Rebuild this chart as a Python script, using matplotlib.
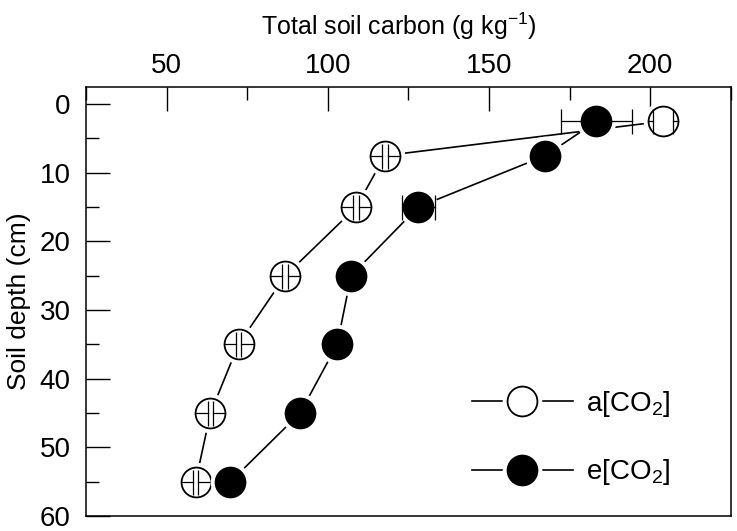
import matplotlib
matplotlib.use("Agg")
import matplotlib.pyplot as plt
from matplotlib.lines import Line2D
from matplotlib.legend_handler import HandlerTuple
from matplotlib.ticker import MultipleLocator

plt.rcParams['font.family'] = ['Liberation Sans', 'DejaVu Sans']
plt.rcParams['mathtext.fontset'] = 'custom'
plt.rcParams['mathtext.rm'] = 'Liberation Sans'
plt.rcParams['mathtext.it'] = 'Liberation Sans:italic'

# soil depth (cm) and total soil carbon (g/kg)
depth = [2.5, 7.5, 15, 25, 35, 45, 55]
ambient = [204, 117.7, 108.8, 86.8, 72.3, 63.6, 59.0]
ambient_se = [3.0, 0.9, 0.9, 0.9, 0.9, 0.9, 0.8]
elevated = [183.3, 167.5, 128.0, 107.2, 102.9, 91.4, 69.8]
elevated_se = [11.0, 2.0, 5.1, 2.0, 2.0, 2.0, 2.0]
labels = ['a[CO$_2$]', 'e[CO$_2$]']

ms = 21.5    # marker size (pt)
halo = 28.5  # white gap round the markers
cap = 18

fig = plt.figure(figsize=(7.37, 5.31), dpi=100)
ax = fig.add_axes([0.1167, 0.0282, 0.875, 0.808])
ax.set_xlim(25, 225)
ax.set_ylim(60, -2.5)

# marker radius in data units so error bars start at circle edge
px_per_unit = ax.transData.transform((1, 0))[0] - ax.transData.transform((0, 0))[0]
r = ms / 2 / 72 * fig.dpi / px_per_unit


def draw_series(x, err, face, z):
    ax.plot(x, depth, color='black', lw=1.2, zorder=z)
    ax.plot(x, depth, ls='none', marker='o', ms=halo, mfc='white', mec='none', zorder=z + 1)
    ax.plot(x, depth, ls='none', marker='o', ms=ms, mfc=face, mec='black', mew=1.3, zorder=z + 2)
    for xi, yi, e in zip(x, depth, err):
        for s in (-1, 1):
            ax.plot([xi + s * r, xi + s * e], [yi, yi], color='black', lw=0.9, zorder=z + 3)
            ax.plot([xi + s * e], [yi], marker='|', ms=cap, mew=0.9, color='black', zorder=z + 3)


draw_series(ambient, ambient_se, 'white', 2)
draw_series(elevated, elevated_se, 'black', 10)

ax.xaxis.tick_top()
ax.xaxis.set_label_position('top')
ax.xaxis.set_major_locator(MultipleLocator(50))
ax.xaxis.set_minor_locator(MultipleLocator(25))
ax.yaxis.set_major_locator(MultipleLocator(10))
ax.yaxis.set_minor_locator(MultipleLocator(5))
ax.tick_params(which='both', direction='in', width=1.0, labelsize=20, pad=6)
ax.tick_params(which='major', length=17)
ax.tick_params(which='minor', length=9)
ax.tick_params(axis='y', pad=11)
for sp in ax.spines.values():
    sp.set_linewidth(1.1)

ax.set_xlabel('Total soil carbon (g kg$^{-1}$)', fontsize=18, labelpad=13)
ax.set_ylabel('Soil depth (cm)', fontsize=19, labelpad=6)
ax.xaxis.label.set_x(0.485)

handles = []
for face in ('white', 'black'):
    handles.append((
        Line2D([], [], color='black', lw=1.2),
        Line2D([], [], ls='none', marker='o', ms=halo, mfc='white', mec='none'),
        Line2D([], [], ls='none', marker='o', ms=ms, mfc=face, mec='black', mew=1.3),
    ))
ax.legend(handles, labels, handler_map={tuple: HandlerTuple(ndivide=1)},
          loc='upper left', bbox_to_anchor=(0.598, 0.297), frameon=False,
          fontsize=20, handlelength=3.65, handletextpad=0.45, labelspacing=1.4,
          borderpad=0, borderaxespad=0)

fig.savefig('out.png', dpi=100)
